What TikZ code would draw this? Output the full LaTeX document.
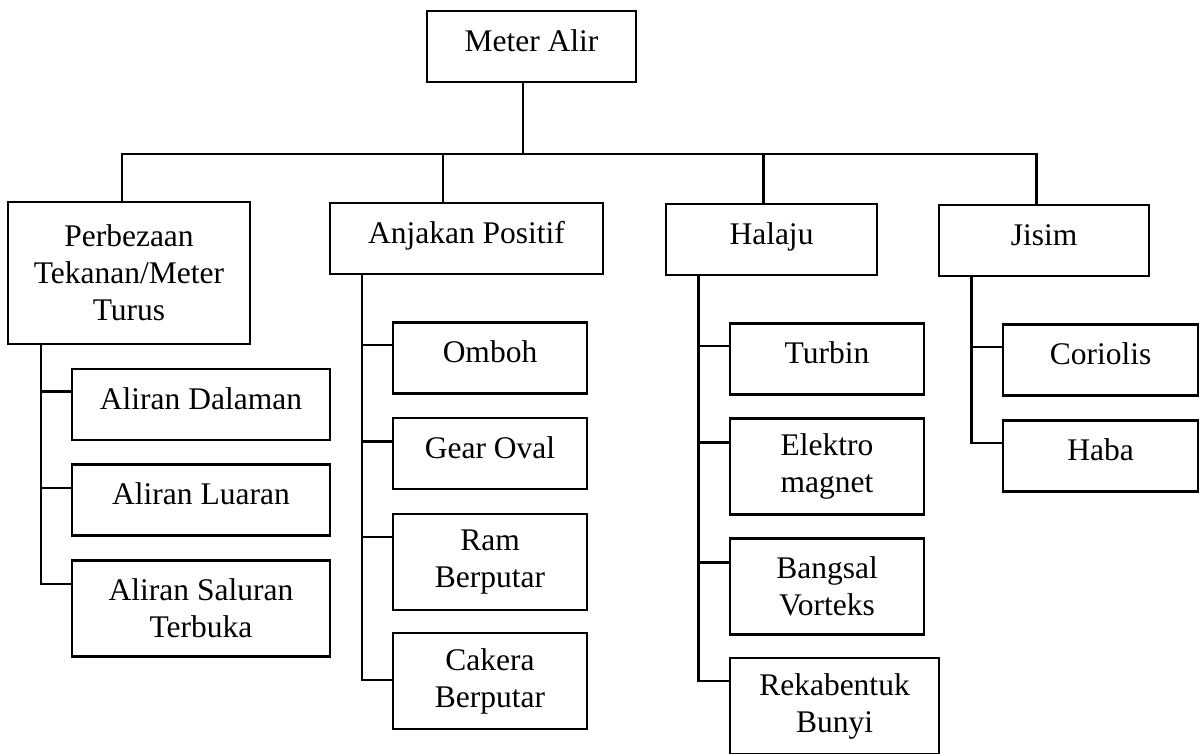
\documentclass[tikz,border=0pt]{standalone}
\usepackage{fontspec}
\setmainfont{Liberation Serif}

\begin{document}
\begin{tikzpicture}[x=1pt, y=-1pt, line width=2.4pt,
    box/.style={rectangle, draw, inner sep=0pt, align=center, font=\fontsize{31.5}{37}\selectfont},
    one/.style={box, text height=40pt, text depth=31pt},
    two/.style={box, minimum height=96pt}]
    \useasboundingbox (0,0) rectangle (1202,753);
    % top and the four kinds
    \node[one, minimum width=209pt] (root) at (531.5,46.5) {Meter Alir};
    \node[box, minimum width=242pt, minimum height=142pt] (p1) at (129,273) {Perbezaan\\Tekanan/Meter\\Turus};
    \node[one, minimum width=273pt] (p2) at (466.5,238.5) {Anjakan Positif};
    \node[one, minimum width=211pt] (p3) at (771.5,239.5) {Halaju};
    \node[one, minimum width=210pt] (p4) at (1044,240.5) {Jisim};
    % children
    \node[one, minimum width=258pt] (d1) at (201,404.5) {Aliran Dalaman};
    \node[one, minimum width=258pt] (d2) at (201,500) {Aliran Luaran};
    \node[two, minimum width=258pt] (d3) at (201,608.5) {Aliran Saluran\\Terbuka};
    \node[one, minimum width=194pt] (o1) at (490,358) {Omboh};
    \node[one, minimum width=194pt] (o2) at (490,453.5) {Gear Oval};
    \node[two, minimum width=194pt] (o3) at (490,562) {Ram\\Berputar};
    \node[two, minimum width=194pt] (o4) at (490,681) {Cakera\\Berputar};
    \node[one, minimum width=194pt] (t1) at (827,359) {Turbin};
    \node[two, minimum width=194pt] (t2) at (827,466.5) {Elektro\\magnet};
    \node[two, minimum width=194pt] (t3) at (827,586.5) {Bangsal\\Vorteks};
    \node[two, minimum width=209pt] (t4) at (834.5,706) {Rekabentuk\\Bunyi};
    \node[one, minimum width=195pt] (m1) at (1100.5,360) {Coriolis};
    \node[one, minimum width=195pt] (m2) at (1100.5,456) {Haba};
    % bus
    \coordinate (bus) at (523,154);
    \draw ([xshift=-8.5pt]root.south) -- (bus);
    \draw ([xshift=-7pt]p1.north) |- (bus) -| ([xshift=-7.5pt]p4.north);
    \draw ([xshift=-23.5pt]p2.north) -- ([xshift=-23.5pt]p2.north |- bus);
    \draw ([xshift=-8pt]p3.north) -- ([xshift=-8pt]p3.north |- bus);
    % spines
    \draw ([xshift=-88pt]p1.south) |- ([yshift=24.5pt]d3.west);
    \draw ([yshift=13pt]d1.west) -- ++(-31,0);
    \draw ([yshift=12pt]d2.west) -- ++(-31,0);
    \draw ([xshift=-104.5pt]p2.south) |- ([yshift=1pt]o4.west);
    \draw ([yshift=13pt]o1.west) -- ++(-31,0);
    \draw ([yshift=12pt]o2.west) -- ++(-31,0);
    \draw ([yshift=25pt]o3.west) -- ++(-31,0);
    \draw ([xshift=-73pt]p3.south) |- ([yshift=25pt]t4.west);
    \draw ([yshift=13pt]t1.west) -- ++(-31.5,0);
    \draw ([yshift=24pt]t2.west) -- ++(-31.5,0);
    \draw ([yshift=24pt]t3.west) -- ++(-31.5,0);
    \draw ([xshift=-72.5pt]p4.south) |- ([yshift=13pt]m2.west);
    \draw ([yshift=13pt]m1.west) -- ++(-31.5,0);
\end{tikzpicture}
\end{document}
